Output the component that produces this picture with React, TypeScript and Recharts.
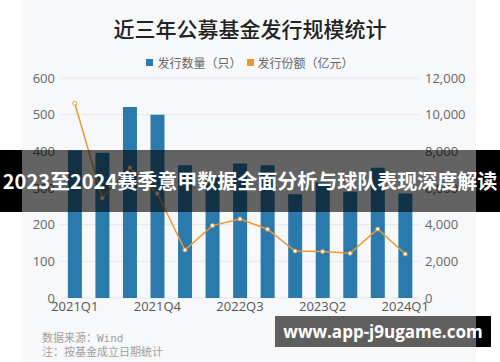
import React from 'react';
import {
  ComposedChart,
  Bar,
  Line,
  XAxis,
  YAxis,
  CartesianGrid,
  Legend,
} from 'recharts';

const quarters = [
  '2021Q1', '2021Q2', '2021Q3', '2021Q4',
  '2022Q1', '2022Q2', '2022Q3', '2022Q4',
  '2023Q1', '2023Q2', '2023Q3', '2023Q4',
  '2024Q1',
];
// 发行数量（只）
const fundCounts = [403, 396, 521, 500, 362, 335, 367, 362, 283, 315, 290, 355, 285];
// 发行份额（亿元）
const fundShares = [10620, 5450, 7110, 5700, 2620, 3950, 4310, 3750, 2560, 2530, 2440, 3760, 2400];
const leftTicks = [0, 100, 200, 300, 400, 500, 600];
const rightTicks = [0, 2000, 4000, 6000, 8000, 10000, 12000];

const BLUE = '#2a7aae';
const ORANGE = '#ee9633';
const AXIS_FONT = "'Open Sans', 'Noto Sans', sans-serif";
const CJK_FONT = "'Noto Sans CJK SC', 'Noto Sans', sans-serif";

const data = quarters.map((q, i) => ({ q, count: fundCounts[i], share: fundShares[i] }));

const renderLegend = () => (
  <div style={{ display: 'flex', justifyContent: 'center', alignItems: 'center', fontFamily: CJK_FONT, fontSize: 12, lineHeight: '17px', color: '#666' }}>
    <span style={{ width: 7, height: 7, background: BLUE, display: 'inline-block', marginRight: 4 }} />
    <span style={{ marginRight: 5 }}>发行数量（只）</span>
    <span style={{ width: 7, height: 7, background: ORANGE, display: 'inline-block', marginRight: 4 }} />
    <span>发行份额（亿元）</span>
  </div>
);

export default function App() {
  const tick = { fill: '#666', fontSize: 13, fontFamily: AXIS_FONT };
  return (
    <div style={{ position: 'absolute', left: 0, top: 0, width: 500, height: 362, background: '#fff', overflow: 'hidden' }}>
      <div style={{ position: 'absolute', left: 22, top: 0, width: 454, height: 362, background: '#f7f8fa' }} />
      <div
        style={{
          position: 'absolute', left: 0, top: 13, width: 500, textAlign: 'center',
          fontFamily: CJK_FONT, fontSize: 21, fontWeight: 500, color: '#222',
        }}
      >
        近三年公募基金发行规模统计
      </div>

      <div style={{ position: 'absolute', left: 0, top: 0 }}>
        <ComposedChart width={500} height={362} data={data} margin={{ top: 61, right: 0, bottom: 44, left: 0 }} barCategoryGap="25%">
          <CartesianGrid vertical={false} stroke="#e6e7ea" yAxisId="left" />
          <XAxis
            dataKey="q"
            height={20}
            interval={2}
            tickLine={false}
            axisLine={false}
            tickSize={0}
            tickMargin={4}
            tick={{ ...tick, fill: '#555' }}
          />
          <YAxis
            yAxisId="left"
            width={61}
            domain={[0, 600]}
            ticks={leftTicks}
            tickLine={false}
            axisLine={false}
            tickSize={0}
            tickMargin={6}
            tick={tick}
          />
          <YAxis
            yAxisId="right"
            orientation="right"
            width={81}
            domain={[0, 12000]}
            ticks={rightTicks}
            tickLine={false}
            axisLine={false}
            tickSize={0}
            tickMargin={6}
            tick={tick}
            tickFormatter={(v: number) => v.toLocaleString('en-US')}
          />
          <Legend verticalAlign="top" content={renderLegend} wrapperStyle={{ top: 54, left: 0, width: 500 }} />
          <Bar yAxisId="left" dataKey="count" fill={BLUE} isAnimationActive={false} />
          <Line
            yAxisId="right"
            dataKey="share"
            type="linear"
            stroke={ORANGE}
            strokeWidth={1.5}
            dot={{ r: 2, fill: '#fff', stroke: ORANGE, strokeWidth: 1 }}
            isAnimationActive={false}
          />
        </ComposedChart>
      </div>

      <div style={{ position: 'absolute', left: 42, top: 331, fontFamily: CJK_FONT, fontSize: 11, lineHeight: '12px', color: '#a0a0a0' }}>
        <div>数据来源：<span style={{ fontFamily: "'DejaVu Sans Mono', monospace" }}>Wind</span></div>
        <div>注：按基金成立日期统计</div>
      </div>

      {/* overlay banner */}
      <div style={{ position: 'absolute', left: 0, top: 150, width: 22, height: 62, background: '#000' }} />
      <div style={{ position: 'absolute', left: 22, top: 150, width: 454, height: 62, background: 'rgba(0,0,0,0.6)' }} />
      <div style={{ position: 'absolute', left: 476, top: 150, width: 24, height: 62, background: '#000' }} />
      <div
        style={{
          position: 'absolute', left: 0, top: 150, width: 500, height: 62, lineHeight: '62px',
          textAlign: 'center', whiteSpace: 'nowrap', color: '#fff', fontFamily: CJK_FONT,
          fontSize: 20, fontWeight: 700,
        }}
      >
        2023至2024赛季意甲数据全面分析与球队表现深度解读
      </div>

      {/* watermark */}
      <div style={{ position: 'absolute', left: 275, top: 316, width: 201, height: 31, background: '#5f5f5f' }} />
      <div style={{ position: 'absolute', left: 476, top: 316, width: 15, height: 31, background: '#000' }} />
      <div
        style={{
          position: 'absolute', left: 275, top: 316, width: 216, height: 31, lineHeight: '31px',
          textAlign: 'center', color: '#fff', fontFamily: "'Open Sans', sans-serif", fontSize: 17, fontWeight: 700,
          whiteSpace: 'nowrap',
        }}
      >
        www.app-j9ugame.com
      </div>
    </div>
  );
}
